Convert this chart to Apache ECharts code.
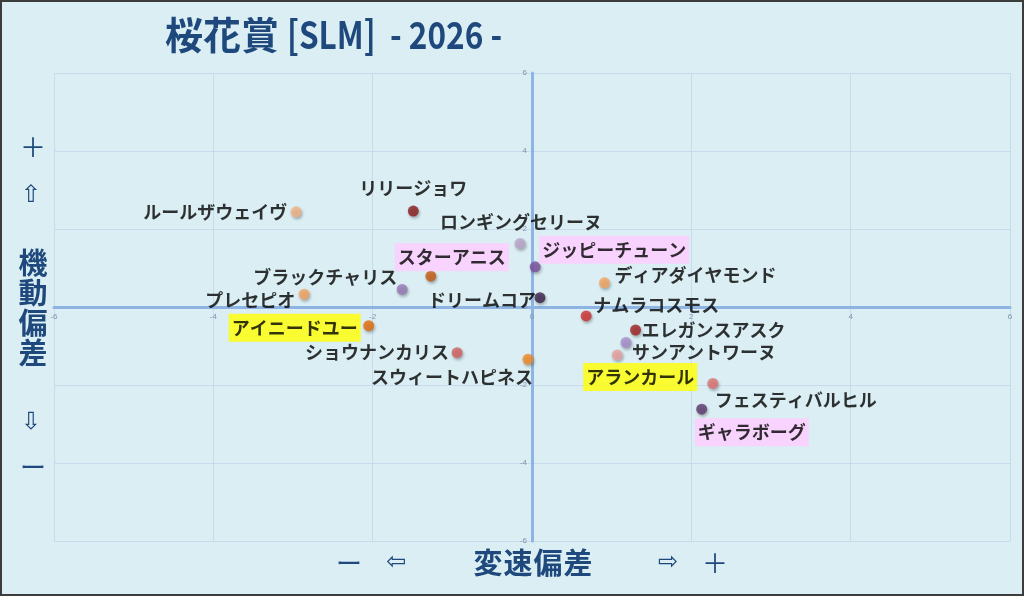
<!DOCTYPE html>
<html>
<head>
<meta charset="utf-8">
<script src="https://cdn.jsdelivr.net/npm/echarts@6/dist/echarts.min.js"></script>
<style>
html,body{margin:0;padding:0;background:#daeef3;}
#c{width:1024px;height:596px;}
</style>
</head>
<body>
<div id="c"></div>
<script>
// ---- data ----
const horseNames = ['ルールザウェイヴ','リリージョワ','ロンギングセリーヌ','スターアニス','ジッピーチューン','ブラックチャリス','プレセピオ','ドリームコア','ディアダイヤモンド','ナムラコスモス','エレガンスアスク','サンアントワーヌ','アランカール','フェスティバルヒル','ギャラボーグ','アイニードユー','ショウナンカリス','スウィートハピネス'];
const speedDev = [-2.96,-1.49,-0.15,-1.27,0.04,-1.63,-2.86,0.10,0.91,0.68,1.30,1.18,1.07,2.27,2.13,-2.05,-0.94,-0.05];
const mobilityDev = [2.44,2.46,1.63,0.79,1.03,0.45,0.33,0.24,0.62,-0.23,-0.59,-0.91,-1.23,-1.96,-2.62,-0.48,-1.17,-1.34];
const tickValues = [-6,-4,-2,0,2,4,6];

// ---- styles / layout (kept apart from data) ----
const pointColors = ['#f4b183','#8b1c1c','#b9a6c9','#c55a11','#7b4f9e','#9678b6','#f4a460','#3b2147','#f4a460','#d03030','#a02020','#a88ccc','#e8a0a0','#e07070','#5d3a6e','#e36c09','#d36060','#f08a24'];
const highlight = {'スターアニス':'#ffccff','ジッピーチューン':'#ffccff','ギャラボーグ':'#ffccff','アイニードユー':'#ffff00','アランカール':'#ffff00'};
// [align, dx, dy]
const labelPlace = [
  ['right',-9,0],['center',0,-23],['center',1,-21],['center',21,-19],['left',4,-17],
  ['right',-5,-12],['right',-9,6],['right',-4,3],['left',10,-8],['left',7,-11],
  ['left',6,0],['left',6,10],['center',23,22],['left',2,17],['center',50,23],
  ['right',-8,2],['right',-8,0],['right',5,18]
];

const data = horseNames.map((n,i)=>{
  const p = labelPlace[i];
  const hl = highlight[n];
  const lab = {
    show:true, formatter:n, position:'inside', align:p[0], verticalAlign:'middle',
    offset:[p[1], p[2]],
    color:'#000', fontSize:18, fontFamily:'Noto Sans CJK JP', fontWeight:'bold'
  };
  if (hl){ lab.backgroundColor = hl; lab.padding=[5,3,5,3]; }
  return {name:n, value:[speedDev[i], mobilityDev[i]], itemStyle:{color:pointColors[i]}, label:lab};
});

const titleColor = '#1f497d';
const axisFont = 'bold 29px "Noto Sans CJK JP"';
const gtext = (t,x,y,font,extra)=>Object.assign({type:'text', x:x, y:y, style:{text:t, font:font, fill:titleColor, align:'center', verticalAlign:'middle'}, z:10}, extra||{});

const yNameChars = ['機','動','偏','差'];
const yNameY = [263,293,323,353];
const xNameChars = ['変','速','偏','差'];
const xNameX = [488,518,548,578];

const graphics = [
  {type:'text', x:165, y:35, style:{text:'桜花賞', font:'bold 38px "Noto Sans CJK JP"', fill:titleColor, verticalAlign:'middle'}, z:10},
  {type:'text', x:287, y:35, scaleX:0.83, style:{text:'[SLM]  - 2026 -', font:'bold 38px "Noto Sans CJK JP"', fill:titleColor, verticalAlign:'middle'}, z:10},
  gtext('＋',33,147,'26px "Noto Sans CJK JP"'),
  gtext('⇧',31,196,'24px "DejaVu Sans"'),
  gtext('⇩',31,423,'24px "DejaVu Sans"'),
  gtext('ー',33,467,'26px "Noto Sans CJK JP"'),
  gtext('ー',349,563,'26px "Noto Sans CJK JP"'),
  gtext('⇦',396,563,'24px "DejaVu Sans"'),
  gtext('⇨',668,563,'24px "DejaVu Sans"'),
  gtext('＋',715,563,'26px "Noto Sans CJK JP"'),
  {type:'rect', shape:{x:1,y:1,width:1022,height:594}, style:{fill:'none', stroke:'#3c3c3c', lineWidth:2}, z:20, silent:true}
];
yNameChars.forEach((c,i)=>graphics.push(gtext(c,33,yNameY[i],axisFont)));
xNameChars.forEach((c,i)=>graphics.push(gtext(c,xNameX[i],563,axisFont)));

const G = {left:54, right:14, top:73, bottom:55, W:1024, H:596};
const plotW = G.W - G.left - G.right;
const plotH = G.H - G.top - G.bottom;

const axisCommon = {
  type:'value', min:tickValues[0], max:tickValues[tickValues.length-1], interval:2,
  axisLine:{onZero:false, lineStyle:{color:'#8eb4e3', width:3}},
  axisTick:{show:false},
  axisLabel:{fontSize:8, color:'#7f93ad', fontFamily:'Liberation Sans'},
  splitLine:{show:true, lineStyle:{color:'#c6dcec', width:1}}
};

const chart = echarts.init(document.getElementById('c'), null, {renderer:'canvas'});
chart.setOption({
  backgroundColor:'#daeef3',
  animation:false,
  grid:{left:G.left, right:G.right, top:G.top, bottom:G.bottom, containLabel:false},
  xAxis:Object.assign({}, axisCommon, {position:'bottom', offset:-plotH/2, axisLabel:Object.assign({}, axisCommon.axisLabel, {margin:6})}),
  yAxis:Object.assign({}, axisCommon, {position:'left', offset:-plotW/2, axisLabel:Object.assign({}, axisCommon.axisLabel, {margin:5})}),
  graphic:graphics,
  series:[{
    type:'scatter', symbolSize:11, data:data,
    itemStyle:{shadowBlur:3, shadowColor:'rgba(0,0,0,0.35)', shadowOffsetX:1, shadowOffsetY:2},
    z:5
  }]
});
</script>
</body>
</html>
